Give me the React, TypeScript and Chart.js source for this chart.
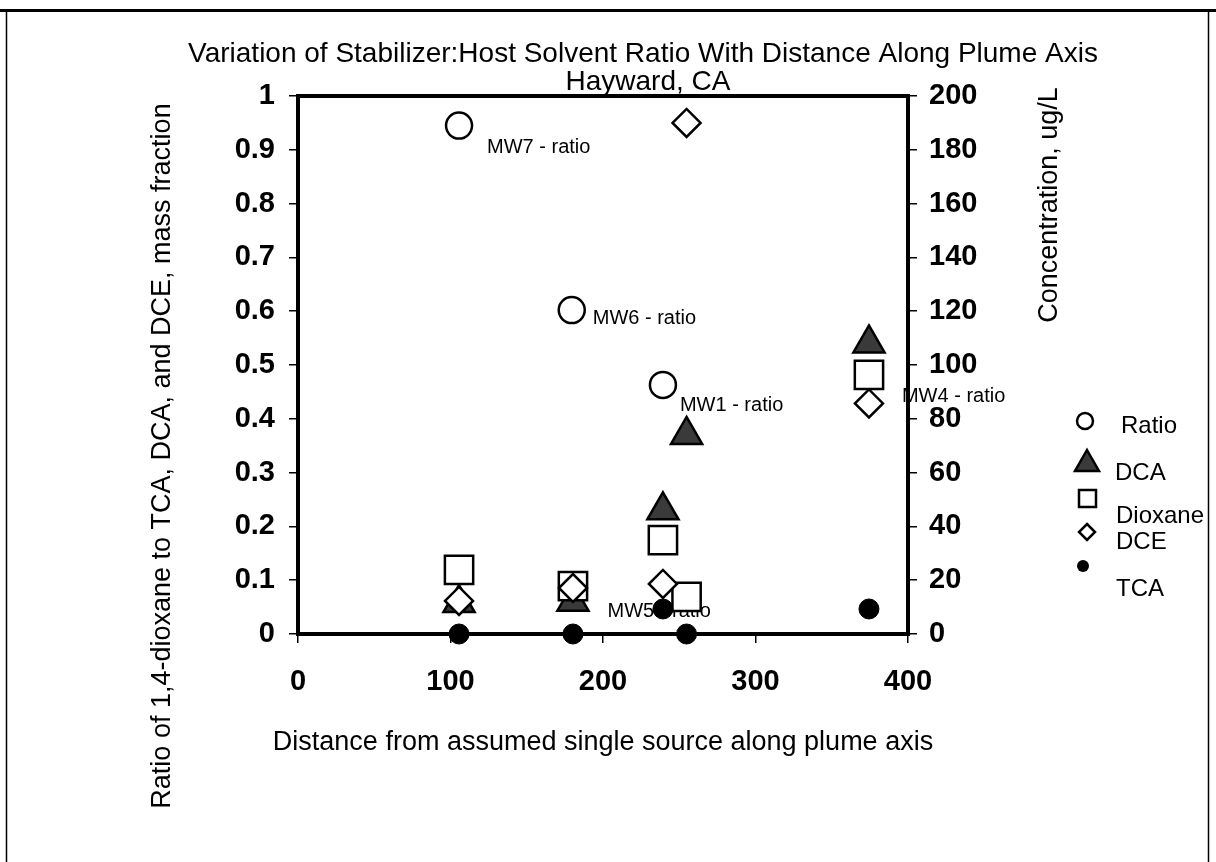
import React, { useEffect, useRef } from 'react';
import { Chart, registerables } from 'chart.js';

Chart.register(...registerables);

// ---------- text ----------
const chartTitle = 'Variation of Stabilizer:Host Solvent Ratio With Distance Along Plume Axis';
const chartSubtitle = 'Hayward, CA';
const xTitle = 'Distance from assumed single source along plume axis';
const yLeftTitle = 'Ratio of 1,4-dioxane to TCA, DCA, and DCE, mass fraction';
const yRightTitle = 'Concentration, ug/L';

// ---------- data ----------
const seriesNames = ['Ratio', 'DCA', 'Dioxane', 'DCE', 'TCA'];

const wellLabels = ['MW7 - ratio', 'MW6 - ratio', 'MW1 - ratio', 'MW4 - ratio', 'MW5 - ratio'];
const ratioDistance = [105.6, 179.5, 239.3, 374.4, 254.8];
const ratioValue = [0.945, 0.602, 0.463, 0.481, 0.069];

const concDistance = [105.6, 180.3, 239.3, 254.8, 374.4];
const dcaConc = [11.5, 12, 46, 74, 108];
const dioxaneConc = [23.8, 17.8, 34.9, 13.8, 96.3];
const dceConc = [12.3, 17.1, 18.6, 190, 85.7];
const tcaConc = [0, 0, 9.3, 0, 9.3];

const xTickValues = [0, 100, 200, 300, 400];
const ratioTickValues = [0, 0.1, 0.2, 0.3, 0.4, 0.5, 0.6, 0.7, 0.8, 0.9, 1];
const concTickValues = [0, 20, 40, 60, 80, 100, 120, 140, 160, 180, 200];

// ---------- styling / layout ----------
const W = 1216;
const H = 862;
const FONT = '"Liberation Sans", Arial, Helvetica, sans-serif';
const AREA = { left: 298, right: 908, top: 96, bottom: 634 };
const labelOffsets: [number, number][] = [
  [28, 22],
  [21, 8],
  [17, 21],
  [33, 21],
  [-79, 15],
];
const legendText: [number, number][] = [
  [1121, 426],
  [1115, 473],
  [1116, 516],
  [1116, 542],
  [1116, 589],
];

const tickFont = { family: FONT, size: 29, weight: 'bold' as const };

const pts = (xs: number[], ys: number[]) => xs.map((x, i) => ({ x, y: ys[i] }));

const decorPlugin = {
  id: 'decor',
  beforeDraw(chart: any) {
    const ctx: CanvasRenderingContext2D = chart.ctx;
    ctx.save();
    ctx.fillStyle = '#fff';
    ctx.fillRect(0, 0, W, H);
    // page frame
    ctx.strokeStyle = '#000';
    ctx.lineWidth = 3;
    ctx.beginPath();
    ctx.moveTo(0, 10.5);
    ctx.lineTo(W, 10.5);
    ctx.stroke();
    ctx.lineWidth = 1.5;
    ctx.beginPath();
    ctx.moveTo(6.5, 10);
    ctx.lineTo(6.5, H);
    ctx.moveTo(1208.5, 10);
    ctx.lineTo(1208.5, H);
    ctx.stroke();

    // titles
    ctx.fillStyle = '#000';
    ctx.textAlign = 'center';
    ctx.textBaseline = 'middle';
    ctx.font = `28px ${FONT}`;
    ctx.fillText(chartTitle, 643, 54);
    ctx.fillText(chartSubtitle, 648, 82);
    ctx.font = `27px ${FONT}`;
    ctx.fillText(xTitle, 603, 743);
    ctx.save();
    ctx.translate(163, 456);
    ctx.rotate(-Math.PI / 2);
    ctx.fillText(yLeftTitle, 0, 0);
    ctx.restore();
    ctx.save();
    ctx.translate(1050, 205);
    ctx.rotate(-Math.PI / 2);
    ctx.fillText(yRightTitle, 0, 0);
    ctx.restore();

    // legend markers
    ctx.lineWidth = 2.5;
    ctx.strokeStyle = '#000';
    // circle
    ctx.beginPath();
    ctx.arc(1085, 421, 8, 0, Math.PI * 2);
    ctx.fillStyle = '#fff';
    ctx.fill();
    ctx.stroke();
    // triangle
    ctx.beginPath();
    ctx.moveTo(1087, 450);
    ctx.lineTo(1099, 471);
    ctx.lineTo(1075, 471);
    ctx.closePath();
    ctx.fillStyle = '#3a3a3a';
    ctx.fill();
    ctx.stroke();
    // square
    ctx.beginPath();
    ctx.rect(1079, 490, 17, 17);
    ctx.fillStyle = '#fff';
    ctx.fill();
    ctx.stroke();
    // diamond
    ctx.beginPath();
    ctx.moveTo(1087, 524);
    ctx.lineTo(1095, 532);
    ctx.lineTo(1087, 540);
    ctx.lineTo(1079, 532);
    ctx.closePath();
    ctx.fill();
    ctx.stroke();
    // dot
    ctx.beginPath();
    ctx.arc(1083, 566, 6, 0, Math.PI * 2);
    ctx.fillStyle = '#000';
    ctx.fill();

    ctx.fillStyle = '#000';
    ctx.font = `24px ${FONT}`;
    ctx.textAlign = 'left';
    ctx.textBaseline = 'middle';
    seriesNames.forEach((name, i) => ctx.fillText(name, legendText[i][0], legendText[i][1]));
    ctx.restore();
  },
  afterDatasetDraw(chart: any, args: any) {
    if (args.index !== 0) return;
    const ctx: CanvasRenderingContext2D = chart.ctx;
    ctx.save();
    ctx.fillStyle = '#000';
    ctx.font = `20px ${FONT}`;
    ctx.textAlign = 'left';
    ctx.textBaseline = 'middle';
    args.meta.data.forEach((pt: any, i: number) => {
      const [dx, dy] = labelOffsets[i];
      ctx.fillText(wellLabels[i], pt.x + dx, pt.y + dy);
    });
    const a = chart.chartArea;
    ctx.strokeStyle = '#000';
    ctx.lineWidth = 4;
    ctx.strokeRect(a.left, a.top, a.right - a.left, a.bottom - a.top);
    ctx.restore();
  },
};

const tickGrid = {
  display: true,
  drawOnChartArea: false,
  drawTicks: true,
  tickLength: 9,
  color: '#000',
  lineWidth: 1.5,
};

export default function App() {
  const ref = useRef<HTMLCanvasElement | null>(null);

  useEffect(() => {
    document.body.style.margin = '0';
    const canvas = ref.current;
    if (!canvas) return;
    const common = { showLine: false, clip: false as any, borderColor: '#000', pointBorderColor: '#000' };
    const chart = new Chart(canvas, {
      type: 'scatter',
      data: {
        datasets: [
          {
            ...common,
            label: seriesNames[0],
            data: pts(ratioDistance, ratioValue),
            yAxisID: 'y',
            pointStyle: 'circle',
            pointRadius: 13,
            pointBorderWidth: 2.5,
            pointBackgroundColor: '#fff',
            backgroundColor: '#fff',
            order: 5,
          },
          {
            ...common,
            label: seriesNames[1],
            data: pts(concDistance, dcaConc),
            yAxisID: 'y1',
            pointStyle: 'triangle',
            pointRadius: 18,
            pointBorderWidth: 2.5,
            pointBackgroundColor: '#3a3a3a',
            backgroundColor: '#3a3a3a',
            order: 4,
          },
          {
            ...common,
            label: seriesNames[2],
            data: pts(concDistance, dioxaneConc),
            yAxisID: 'y1',
            pointStyle: 'rect',
            pointRadius: 20,
            pointBorderWidth: 2.5,
            pointBackgroundColor: '#fff',
            backgroundColor: '#fff',
            order: 3,
          },
          {
            ...common,
            label: seriesNames[3],
            data: pts(concDistance, dceConc),
            yAxisID: 'y1',
            pointStyle: 'rectRot',
            pointRadius: 14,
            pointBorderWidth: 2.5,
            pointBackgroundColor: '#fff',
            backgroundColor: '#fff',
            order: 2,
          },
          {
            ...common,
            label: seriesNames[4],
            data: pts(concDistance, tcaConc),
            yAxisID: 'y1',
            pointStyle: 'circle',
            pointRadius: 10,
            pointBorderWidth: 1,
            pointBackgroundColor: '#000',
            backgroundColor: '#000',
            order: 1,
          },
        ],
      },
      options: {
        responsive: false,
        animation: false,
        events: [],
        layout: { padding: { top: AREA.top, left: 0, right: 0, bottom: 0 } },
        plugins: {
          legend: { display: false },
          title: { display: false },
          tooltip: { enabled: false },
        },
        scales: {
          x: {
            type: 'linear',
            position: 'bottom',
            min: 0,
            max: 400,
            afterBuildTicks: (s: any) => {
              s.ticks = xTickValues.map((value) => ({ value }));
            },
            afterFit: (s: any) => {
              s.height = H - AREA.bottom;
            },
            ticks: {
              font: tickFont,
              color: '#000',
              padding: 22,
              maxRotation: 0,
              autoSkip: false,
              callback: (v: any) => String(v),
            },
            grid: tickGrid,
            border: { display: false },
          },
          y: {
            type: 'linear',
            position: 'left',
            min: 0,
            max: 1,
            afterBuildTicks: (s: any) => {
              s.ticks = ratioTickValues.map((value) => ({ value }));
            },
            afterFit: (s: any) => {
              s.width = AREA.left;
            },
            ticks: {
              font: tickFont,
              color: '#000',
              padding: 14,
              autoSkip: false,
              callback: (v: any) => String(v),
            },
            grid: tickGrid,
            border: { display: false },
          },
          y1: {
            type: 'linear',
            position: 'right',
            min: 0,
            max: 200,
            afterBuildTicks: (s: any) => {
              s.ticks = concTickValues.map((value) => ({ value }));
            },
            afterFit: (s: any) => {
              s.width = W - AREA.right;
            },
            ticks: {
              font: tickFont,
              color: '#000',
              padding: 12,
              autoSkip: false,
              callback: (v: any) => String(v),
            },
            grid: tickGrid,
            border: { display: false },
          },
        },
      },
      plugins: [decorPlugin],
    } as any);
    return () => chart.destroy();
  }, []);

  return <canvas ref={ref} width={W} height={H} style={{ display: 'block' }} />;
}
